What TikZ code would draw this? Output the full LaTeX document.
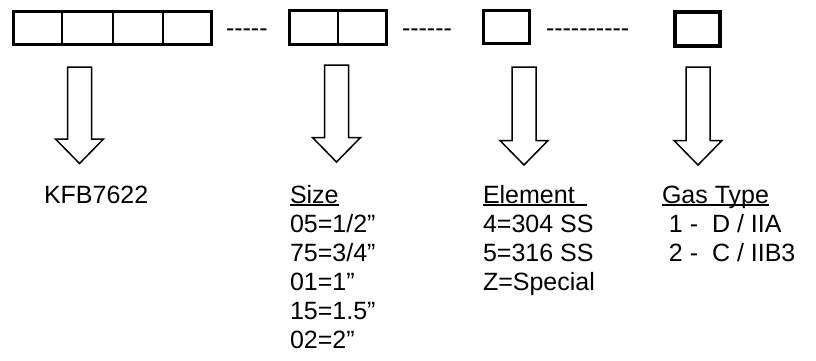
\documentclass[tikz,border=0pt]{standalone}
\usepackage{fontspec}
\setmainfont{Liberation Sans}[Ligatures=TeXOff]
\usetikzlibrary{calc}
\newcommand\ulbox[2][0pt]{\setbox0\hbox{#2}\rlap{\rule[-2.9pt]{\dimexpr\wd0+#1\relax}{1.7pt}}\box0}
\begin{document}
\begin{tikzpicture}[x=1pt,y=-1pt,
  grpbox/.style={draw, line width=3pt, rectangle, inner sep=0pt},
  divider/.style={line width=2pt},
  barrow/.style={draw, line width=1.5pt, fill=white, line join=miter},
  lbl/.style={anchor=base west, inner sep=0pt, outer sep=0pt, font=\fontsize{25}{29}\selectfont},
  dashtxt/.style={lbl}]
\useasboundingbox (0,0) rectangle (816,360);
% code boxes
\node[grpbox, minimum width=198pt, minimum height=33.5pt] (g1) at (112.5,27.75) {};
\node[grpbox, minimum width=97pt, minimum height=33.7pt] (g2) at (338.3,27.65) {};
\node[grpbox, minimum width=46pt, minimum height=32.7pt] (g3) at (506.2,27.15) {};
\node[grpbox, line width=4pt, minimum width=45pt, minimum height=34.3pt] (g4) at (697.2,29.15) {};
\foreach \f in {0.25,0.5,0.75}
  \draw[divider] ($(g1.north west)!\f!(g1.north east)$) -- ($(g1.south west)!\f!(g1.south east)$);
\draw[divider] ($(g2.north west)!0.5!(g2.north east)$) -- ($(g2.south west)!0.5!(g2.south east)$);
% dashes between boxes
\node[dashtxt] (d1) at (226,36) {-----};
\node[dashtxt] (d2) at (402,36) {------};
\node[dashtxt] (d3) at (546,36) {----------};
% block arrows
\foreach \cx/\tp/\tip in {79.5/67/163.5, 336.5/65/162, 524/67/165, 698/67/165}
  \draw[barrow] (\cx-12,\tp) -- (\cx+12,\tp) -- (\cx+12,\tip-24.5) -- (\cx+24,\tip-24.5)
    -- (\cx,\tip) -- (\cx-24,\tip-24.5) -- (\cx-12,\tip-24.5) -- cycle;
% labels
\node[lbl] (kfb) at (44,203) {KFB7622};
\node[lbl] (size) at (290,203) {\ulbox{Size}};
\node[lbl] (s1) at (290,232) {05=1/2”};
\node[lbl] (s2) at (290,261) {75=3/4”};
\node[lbl] (s3) at (290,290) {01=1”};
\node[lbl] (s4) at (290,319) {15=1.5”};
\node[lbl] (s5) at (290,348) {02=2”};
\node[lbl] (elem) at (483,203) {\ulbox[12pt]{Element}};
\node[lbl] (e1) at (483,232) {4=304 SS};
\node[lbl] (e2) at (483,261) {5=316 SS};
\node[lbl] (e3) at (483,290) {Z=Special};
\node[lbl] (gas) at (662,203) {\ulbox{Gas Type}};
\node[lbl] (t1) at (662,232) {\ 1 -\ \ D / IIA};
\node[lbl] (t2) at (662,261) {\ 2 -\ \ C / IIB3};
\end{tikzpicture}
\end{document}
